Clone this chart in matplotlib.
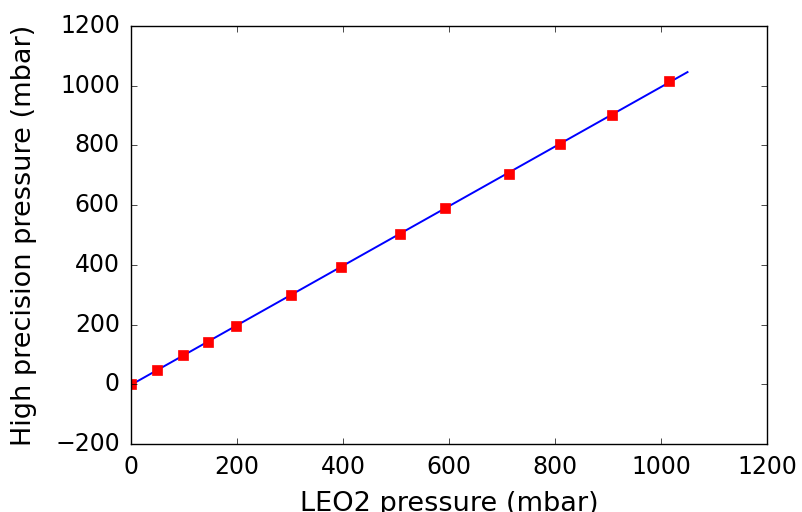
import matplotlib
matplotlib.use('Agg')
import matplotlib.pyplot as plt
import numpy as np

plt.style.use('classic')

# readings from the LEO2 gauge vs the high precision gauge (mbar)
leo2_pressure = [0, 50, 98, 146, 198, 301, 397, 507, 592, 713, 809, 908, 1015]
high_precision = [0, 47, 97, 143, 196, 300, 393, 502, 589, 706, 805, 903, 1015]

fit = np.polyfit(leo2_pressure, high_precision, 1)
fit_x = np.linspace(0, 1050, 100)

fig = plt.figure(figsize=(8.02, 5.12), dpi=100, facecolor='white')
ax = fig.add_axes([0.1633, 0.1328, 0.7931, 0.8164])

ax.plot(fit_x, np.polyval(fit, fit_x), 'b-', linewidth=1.4)
ax.plot(leo2_pressure, high_precision, 'rs', markersize=7, markeredgecolor='r')

ax.set_xlim(0, 1200)
ax.set_ylim(-200, 1200)
ax.set_xlabel('LEO2 pressure (mbar)', fontsize=19.5, labelpad=8.5)
ax.set_ylabel('High precision pressure (mbar)', fontsize=19.5, labelpad=13)
ax.tick_params(labelsize=17, pad=8)

fig.savefig('out.png', dpi=100, facecolor='white')
